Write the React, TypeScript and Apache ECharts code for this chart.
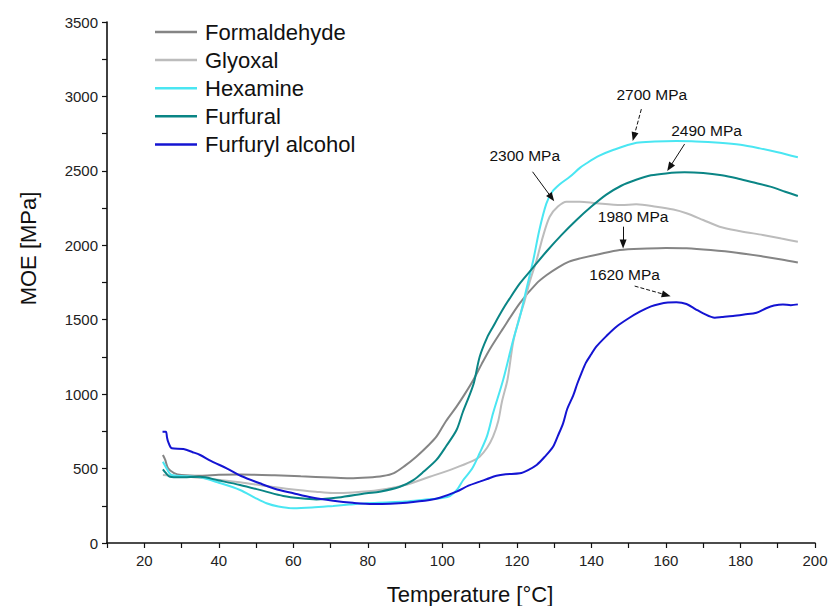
import React, { useEffect, useRef } from "react";
import * as echarts from "echarts";

const seriesNames = ["Formaldehyde", "Glyoxal", "Hexamine", "Furfural", "Furfuryl alcohol"];
const seriesColors = ["#858585", "#bcbcbc", "#4ae6f2", "#0a8585", "#1414d2"];

const formaldehyde: [number, number][] = [
  [25, 591], [25.6, 560], [26.4, 502], [28, 470], [30, 457], [35, 452], [40, 458], [46, 460], [55, 455],
  [62, 448], [70, 440], [75, 435], [80, 440], [84, 450], [87, 470], [90, 520], [93, 580], [96, 650],
  [98.4, 714], [101, 820], [103.8, 916], [106, 1000], [108.3, 1095], [110.5, 1200], [112.7, 1300],
  [116, 1430], [120.8, 1612], [125.3, 1744], [128, 1800], [131, 1850], [134, 1890], [137, 1912],
  [142, 1940], [147.6, 1968], [155, 1978], [160, 1982], [165.5, 1980], [172, 1968], [179, 1950],
  [186, 1925], [191, 1905], [195.4, 1885],
];

const glyoxal: [number, number][] = [
  [25, 457], [28, 452], [32, 445], [38, 430], [45, 410], [52, 385], [60, 360], [66, 345], [70.6, 336],
  [76, 340], [83, 356], [90, 390], [96.6, 445], [103, 500], [108, 550], [110, 580], [112, 640],
  [113.6, 714], [115, 820], [116, 950], [117.5, 1100], [119, 1350], [120.5, 1500], [122, 1620],
  [123.5, 1760], [125.3, 1901], [127, 2060], [128.8, 2192], [131, 2260], [133.3, 2293], [136.9, 2293],
  [141.3, 2282], [148, 2270], [152, 2275], [157.4, 2259], [162, 2240], [165.5, 2215], [170, 2170],
  [174.4, 2125], [180, 2095], [186, 2069], [191, 2045], [195.4, 2024],
];

const hexamine: [number, number][] = [
  [25, 546], [25.8, 510], [27.3, 457], [30, 450], [35, 441], [40, 405], [45.7, 356], [50, 300],
  [52.8, 267], [56, 245], [60, 233], [65, 238], [70.7, 249], [75, 258], [79.6, 267], [85, 272],
  [90, 278], [95, 290], [100, 303], [102, 315], [104, 360], [105.6, 423], [108, 500], [110, 603],
  [112, 720], [113.6, 871], [116.3, 1095], [119, 1364], [120.8, 1520], [122.5, 1700], [124.4, 1901],
  [126, 2100], [127.9, 2280], [129.5, 2360], [131.5, 2410], [134.2, 2460], [136.9, 2520], [138.7, 2551],
  [142, 2600], [145.8, 2640], [152.1, 2689], [157, 2697], [162.8, 2700], [168, 2698], [174.4, 2689],
  [180, 2675], [185.2, 2651], [190, 2625], [195.4, 2591],
];

const furfural: [number, number][] = [
  [25, 495], [25.8, 470], [26.9, 445], [29.6, 441], [35, 445], [40, 420], [45.7, 390], [52, 350],
  [57.3, 316], [62, 300], [66.2, 293], [72, 305], [79.6, 334], [83.2, 345], [88.6, 378], [92.2, 423],
  [95, 480], [98.4, 558], [101, 650], [103.8, 759], [105.5, 880], [107.4, 1000], [108.5, 1080],
  [110, 1250], [112, 1380], [113.6, 1453], [116, 1560], [118, 1640], [120.8, 1744], [124, 1840],
  [128, 1960], [132, 2070], [136, 2170], [140, 2260], [144, 2340], [148, 2400], [152, 2440],
  [156, 2470], [160, 2483], [165, 2490], [170, 2485], [175, 2470], [179, 2450], [183, 2425],
  [188, 2394], [192, 2360], [195.4, 2331],
];

const furfurylAlcohol: [number, number][] = [
  [24.9, 748], [25.8, 748], [26.1, 710], [26.4, 681], [27.4, 636], [30.5, 631], [33, 610], [35, 591],
  [38, 550], [42.1, 502], [46, 450], [51, 401], [55, 365], [60, 334], [65, 305], [70.7, 284], [76, 270],
  [81.4, 262], [86, 264], [90.4, 271], [96.6, 289], [99.3, 304], [103.8, 345], [107, 385], [110, 412],
  [112, 430], [114.5, 452], [117, 462], [120.8, 468], [123, 490], [125.3, 524], [127.5, 580],
  [129.7, 647], [131, 720], [132.4, 804], [133.5, 900], [135.1, 990], [136.2, 1070], [137.3, 1140],
  [138.5, 1210], [140, 1270], [141.3, 1319], [144, 1390], [146.7, 1453], [150, 1510], [153, 1554],
  [156, 1590], [158.3, 1606], [160.5, 1615], [162.8, 1617], [165.5, 1606], [168, 1570], [170, 1543],
  [173.1, 1514], [175, 1518], [178, 1525], [181, 1535], [184.3, 1547], [186.9, 1577], [189, 1595],
  [191.4, 1603], [193.5, 1598], [195.4, 1603],
];

// annotation labels: [x, y, text]
const annotationLabels: [number, number, string][] = [
  [156.2, 3010, "2700 MPa"],
  [170.9, 2774, "2490 MPa"],
  [122.1, 2606, "2300 MPa"],
  [151.2, 2192, "1980 MPa"],
  [148.9, 1807, "1620 MPa"],
];

// annotation arrows: [x1, y1, x2, y2, dashed]
const annotationArrows: [number, number, number, number, boolean][] = [
  [153.4, 2915, 151.4, 2729, true],
  [165.0, 2680, 161.0, 2524, false],
  [124.2, 2494, 129.3, 2320, false],
  [148.5, 2125, 148.5, 2009, false],
  [151.6, 1726, 160.1, 1666, true],
];

const seriesData = [formaldehyde, glyoxal, hexamine, furfural, furfurylAlcohol];

const FONT = "Liberation Sans, Arial, sans-serif";

export default function App() {
  const ref = useRef<HTMLDivElement>(null);
  useEffect(() => {
    if (!ref.current) return;
    const chart = echarts.init(ref.current, undefined, { renderer: "svg" });
    const lineSeries = seriesNames.map((name, i) => ({
      name,
      type: "line",
      data: seriesData[i],
      symbol: "none",
      showSymbol: false,
      smooth: 0.3,
      lineStyle: { color: seriesColors[i], width: 2 },
      itemStyle: { color: seriesColors[i] },
      z: 2 + i,
    }));
    const annSeries = {
      name: "annotations",
      type: "line",
      data: [],
      symbol: "none",
      z: 10,
      markLine: {
        silent: true,
        animation: false,
        symbol: ["none", "triangle"],
        symbolSize: [7, 9],
        label: { show: false },
        data: annotationArrows.map(([x1, y1, x2, y2, dashed]) => [
          { coord: [x1, y1], lineStyle: { color: "#111", width: 1, type: dashed ? "dashed" : "solid" } },
          { coord: [x2, y2], lineStyle: { color: "#111", width: 1, type: dashed ? "dashed" : "solid" } },
        ]),
      },
      markPoint: {
        silent: true,
        animation: false,
        symbol: "circle",
        symbolSize: 1,
        itemStyle: { color: "rgba(0,0,0,0)" },
        label: {
          show: true,
          position: "inside",
          formatter: (p: any) => p.name,
          color: "#111",
          fontSize: 15.5,
          fontFamily: FONT,
        },
        data: annotationLabels.map(([x, y, t]) => ({ name: t, coord: [x, y] })),
      },
    };
    chart.setOption({
      animation: false,
      backgroundColor: "#fff",
      grid: { left: 107, right: 14, top: 22, bottom: 63, containLabel: false, outerBoundsMode: "none" },
      legend: {
        data: seriesNames,
        orient: "vertical",
        left: 155,
        top: 21,
        padding: 0,
        icon: "rect",
        itemWidth: 42,
        itemHeight: 2.5,
        itemGap: 6.1,
        textStyle: { fontSize: 22, lineHeight: 22, fontFamily: FONT, color: "#111", padding: [0, 0, 0, 3] },
      },
      xAxis: {
        type: "value",
        min: 10,
        max: 200,
        interval: 10,
        name: "Temperature [°C]",
        nameLocation: "middle",
        nameGap: 40,
        nameTextStyle: { fontSize: 22, fontFamily: FONT, color: "#111", padding: [0, 0, 0, 18] },
        splitLine: { show: false },
        axisLine: { show: true, onZero: false, lineStyle: { color: "#111", width: 1.6 } },
        axisTick: { show: true, length: 5, lineStyle: { color: "#111", width: 1.2 } },
        axisLabel: {
          fontSize: 15,
          fontFamily: FONT,
          color: "#222",
          margin: 10,
          formatter: (v: number) => (v % 20 === 0 ? String(v) : ""),
        },
      },
      yAxis: {
        type: "value",
        min: 0,
        max: 3500,
        interval: 250,
        name: "MOE [MPa]",
        nameLocation: "middle",
        nameGap: 68,
        nameTextStyle: { fontSize: 22, fontFamily: FONT, color: "#111", padding: [0, 0, 0, 68] },
        splitLine: { show: false },
        axisLine: { show: true, onZero: false, lineStyle: { color: "#111", width: 1.6 } },
        axisTick: { show: true, length: 5, lineStyle: { color: "#111", width: 1.2 } },
        axisLabel: {
          fontSize: 15,
          fontFamily: FONT,
          color: "#222",
          margin: 9,
          formatter: (v: number) => (v % 500 === 0 ? String(v) : ""),
        },
      },
      series: [...lineSeries, annSeries],
    });
    return () => chart.dispose();
  }, []);
  return <div ref={ref} style={{ width: 829, height: 606, position: "absolute", left: 0, top: 0 }} />;
}
